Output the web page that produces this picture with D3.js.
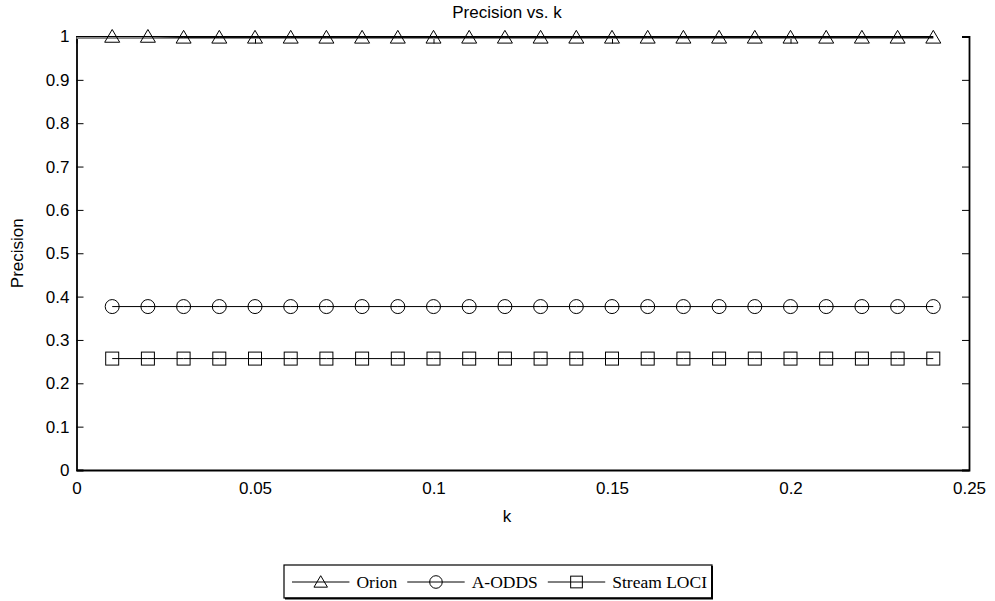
<!DOCTYPE html>
<html><head><meta charset="utf-8">
<script src="https://cdn.jsdelivr.net/npm/d3@7"></script>
<style>body{margin:0;background:#fff}svg{display:block}</style>
</head><body>
<script>
const kValues = [0.01,0.02,0.03,0.04,0.05,0.06,0.07,0.08,0.09,0.10,0.11,0.12,0.13,0.14,0.15,0.16,0.17,0.18,0.19,0.20,0.21,0.22,0.23,0.24];
const orion = [1,1,0.998,0.998,0.998,0.998,0.998,0.998,0.998,0.998,0.998,0.998,0.998,0.998,0.998,0.998,0.998,0.998,0.998,0.998,0.998,0.998,0.998,0.998];
const aodds = kValues.map(() => 0.377);
const streamLoci = kValues.map(() => 0.257);
const seriesNames = ["Orion","A-ODDS","Stream LOCI"];
const xTicks = [0,0.05,0.1,0.15,0.2,0.25];
const yTicks = [0,0.1,0.2,0.3,0.4,0.5,0.6,0.7,0.8,0.9,1];

const W=995,H=601;
const m={l:76.5,r:969,t:36.5,b:470};
const svg=d3.select("body").append("svg").attr("width",W).attr("height",H);
const x=d3.scaleLinear().domain([0,0.25]).range([m.l,m.r]);
const y=d3.scaleLinear().domain([0,1]).range([m.b,m.t]);
const sans="Liberation Sans, Arial, sans-serif";
const FS=17;

const gl=svg.append("g").attr("transform",`translate(${m.l},0)`)
  .call(d3.axisLeft(y).tickValues(yTicks).tickSize(-7).tickPadding(7).tickFormat(d3.format("~g")));
const gr=svg.append("g").attr("transform",`translate(${m.r},0)`)
  .call(d3.axisRight(y).tickValues(yTicks).tickSize(-7).tickFormat(""));
const gb=svg.append("g").attr("transform",`translate(0,${m.b})`)
  .call(d3.axisBottom(x).tickValues(xTicks).tickSize(0).tickPadding(12).tickFormat(d3.format("~g")));
const gt=svg.append("g").attr("transform",`translate(0,${m.t})`)
  .call(d3.axisTop(x).tickValues(xTicks).tickSize(-7).tickFormat(""));
gt.select(".domain").remove();
[gl,gr,gb,gt].forEach(g=>{
  g.attr("font-size",FS).attr("font-family",sans);
  g.selectAll("text").attr("fill","#000");
  g.selectAll("line").attr("stroke","#000");
  g.select(".domain").attr("stroke","#000").attr("stroke-width",1.8);
});

svg.append("line").attr("x1",x(0)).attr("x2",x(d3.max(kValues)))
  .attr("y1",y(1)+1.5).attr("y2",y(1)+1.5).attr("stroke","#888").attr("stroke-width",2);
svg.append("line").attr("x1",x(0)).attr("x2",x(d3.max(kValues)))
  .attr("y1",y(1)).attr("y2",y(1)).attr("stroke","#000").attr("stroke-width",1);

function triPath(s){const h=s*0.85;return `M0,${-h*0.55}L${s/2},${h*0.45}L${-s/2},${h*0.45}Z`;}

const series=[
  {name:"Orion",vals:orion,type:"tri"},
  {name:"A-ODDS",vals:aodds,type:"circ"},
  {name:"Stream LOCI",vals:streamLoci,type:"sq"}
];
const line=d3.line().x(d=>x(d[0])).y(d=>y(d[1]));
function drawMarker(g,type,cx,cy,sz){
  sz=sz||1;
  if(type==="tri") g.append("path").attr("d",triPath(15*sz)).attr("transform",`translate(${cx},${cy})`)
     .attr("fill","none").attr("stroke","#000").attr("stroke-width",1);
  else if(type==="circ") g.append("circle").attr("cx",cx).attr("cy",cy).attr("r",7*sz)
     .attr("fill","none").attr("stroke","#000").attr("stroke-width",1);
  else g.append("rect").attr("x",cx-6.5*sz).attr("y",cy-6.5*sz).attr("width",13*sz).attr("height",13*sz)
     .attr("fill","none").attr("stroke","#000").attr("stroke-width",1);
}
series.forEach(s=>{
  const pts=kValues.map((k,i)=>[k,s.vals[i]]);
  svg.append("path").attr("d",line(pts)).attr("fill","none").attr("stroke","#000").attr("stroke-width",1);
  const g=svg.append("g");
  pts.forEach(p=>drawMarker(g,s.type,x(p[0]),y(p[1])));
});

const cx0=507;
svg.append("text").attr("x",cx0).attr("y",18).attr("text-anchor","middle")
  .attr("font-family",sans).attr("font-size",FS).text("Precision vs. k");
svg.append("text").attr("x",cx0).attr("y",522).attr("text-anchor","middle")
  .attr("font-family",sans).attr("font-size",FS).text("k");
svg.append("text").attr("transform",`translate(23,${(m.t+m.b)/2}) rotate(-90)`).attr("text-anchor","middle")
  .attr("font-family",sans).attr("font-size",FS).text("Precision");

// legend
const lg=svg.append("g");
lg.append("rect").attr("x",284).attr("y",565).attr("width",428).attr("height",33)
  .attr("fill","#fff").attr("stroke","#000").attr("stroke-width",1.2);
lg.append("line").attr("x1",712).attr("x2",712).attr("y1",566).attr("y2",599).attr("stroke","#000").attr("stroke-width",2);
lg.append("line").attr("x1",285).attr("x2",713).attr("y1",598.5).attr("y2",598.5).attr("stroke","#000").attr("stroke-width",2);
const legFont="Liberation Serif, Times New Roman, serif", legFS=17.5, cy=582;
const texts=seriesNames.map(n=>lg.append("text").attr("y",cy+6).attr("font-family",legFont)
  .attr("font-size",legFS).text(n));
const widths=texts.map(t=>t.node().getComputedTextLength());
const startX=292, endX=707, gapT=7, gapI=10;
const L=(endX-startX-3*gapT-2*gapI-d3.sum(widths))/3;
let cur=startX;
series.forEach((s,i)=>{
  lg.append("line").attr("x1",cur).attr("x2",cur+L).attr("y1",cy).attr("y2",cy).attr("stroke","#000");
  drawMarker(lg,s.type,cur+L/2,cy,0.9);
  texts[i].attr("x",cur+L+gapT);
  cur+=L+gapT+widths[i]+gapI;
});
</script>
</body></html>
